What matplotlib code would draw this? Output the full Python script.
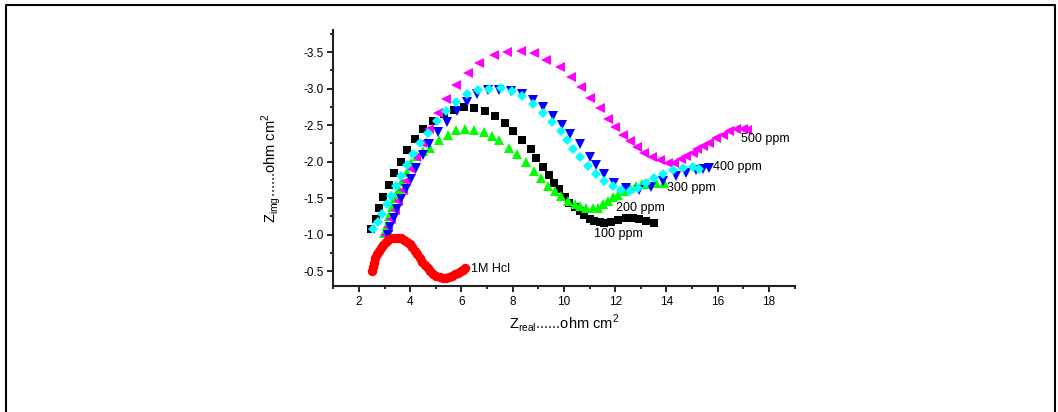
import matplotlib
matplotlib.use("Agg")
import matplotlib.pyplot as plt
from matplotlib.lines import Line2D
from matplotlib.ticker import MultipleLocator

plt.rcParams['font.family'] = ['Liberation Sans', 'DejaVu Sans']
plt.rcParams['axes.unicode_minus'] = False

# Nyquist data (Z_real, Z_img), ohm cm2
hcl_x = [2.53, 2.55, 2.59, 2.64, 2.70, 2.77, 2.85, 2.94, 3.04, 3.15, 3.27, 3.40, 3.53,
         3.65, 3.77, 3.88, 3.98, 4.08, 4.18, 4.28, 4.38, 4.48, 4.58, 4.68, 4.79, 4.90,
         5.02, 5.15, 5.28, 5.41, 5.53, 5.64, 5.75, 5.86, 5.97, 6.07, 6.15]
hcl_y = [-0.50, -0.56, -0.62, -0.68, -0.73, -0.78, -0.82, -0.86, -0.90, -0.93, -0.95, -0.96, -0.96,
         -0.95, -0.93, -0.90, -0.87, -0.83, -0.78, -0.73, -0.68, -0.63, -0.58, -0.54, -0.50, -0.47,
         -0.44, -0.42, -0.41, -0.41, -0.42, -0.44, -0.46, -0.48, -0.50, -0.52, -0.54]

p100_x = [2.48, 2.65, 2.80, 2.96, 3.17, 3.36, 3.65, 3.88, 4.20, 4.52, 4.88, 5.33, 5.72, 6.12,
          6.50, 6.93, 7.32, 7.71, 8.02, 8.38, 8.70, 8.92, 9.18, 9.42, 9.60, 9.81, 10.03, 10.19,
          10.42, 10.61, 10.80, 11.00, 11.19, 11.39, 11.58, 11.84, 12.10, 12.43, 12.68, 12.94,
          13.20, 13.53]
p100_y = [-1.08, -1.21, -1.36, -1.51, -1.68, -1.84, -2.00, -2.16, -2.31, -2.45, -2.56, -2.65, -2.70, -2.745,
          -2.74, -2.69, -2.62, -2.53, -2.42, -2.29, -2.17, -2.055, -1.93, -1.82, -1.71, -1.62, -1.51, -1.44,
          -1.38, -1.33, -1.27, -1.22, -1.19, -1.17, -1.16, -1.17, -1.20, -1.23, -1.23, -1.21,
          -1.19, -1.155]

p200_x = [2.98, 3.08, 3.18, 3.30, 3.42, 3.55, 3.70, 3.87, 4.05, 4.25, 4.50, 4.79, 5.14, 5.46,
          5.79, 6.14, 6.50, 6.89, 7.18, 7.45, 7.84, 8.15, 8.51, 8.84, 9.10, 9.38, 9.64, 9.90,
          10.16, 10.42, 10.61, 10.87, 11.13, 11.32, 11.52, 11.71, 11.91, 12.10, 12.36, 12.56,
          12.80, 13.05, 13.30, 13.60, 13.92]
p200_y = [-1.03, -1.14, -1.26, -1.38, -1.50, -1.62, -1.74, -1.86, -1.98, -2.08, -2.15, -2.19, -2.29, -2.37,
          -2.43, -2.45, -2.43, -2.40, -2.35, -2.30, -2.19, -2.10, -1.99, -1.87, -1.78, -1.67, -1.60, -1.53,
          -1.46, -1.42, -1.39, -1.365, -1.36, -1.37, -1.42, -1.46, -1.51, -1.54, -1.60, -1.645,
          -1.67, -1.69, -1.70, -1.71, -1.714]

p300_x = [2.54, 2.74, 2.91, 3.09, 3.26, 3.45, 3.65, 3.88, 4.13, 4.40, 4.68, 5.03, 5.40, 5.79,
          6.20, 6.63, 7.08, 7.54, 7.99, 8.38, 8.78, 9.18, 9.55, 9.90, 10.12, 10.35, 10.61, 10.93,
          11.26, 11.58, 11.91, 12.23, 12.56, 12.88, 13.20, 13.53, 13.85, 14.24, 14.63, 15.02, 15.28]
p300_y = [-1.08, -1.17, -1.29, -1.42, -1.53, -1.67, -1.80, -1.95, -2.10, -2.25, -2.395, -2.555, -2.69, -2.81,
          -2.92, -2.98, -3.00, -3.01, -2.965, -2.895, -2.79, -2.67, -2.545, -2.42, -2.29, -2.17, -2.06, -1.94,
          -1.83, -1.73, -1.67, -1.615, -1.60, -1.635, -1.71, -1.78, -1.835, -1.88, -1.92, -1.927, -1.905]

p400_x = [3.13, 3.23, 3.36, 3.49, 3.65, 3.84, 4.04, 4.23, 4.49, 4.75, 5.07, 5.42, 5.81, 6.20,
          6.59, 7.02, 7.47, 7.93, 8.38, 8.80, 9.18, 9.57, 9.92, 10.25, 10.61, 11.00, 11.26, 11.58,
          11.97, 12.43, 12.94, 13.40, 13.85, 14.37, 14.76, 15.15, 15.41, 15.67]
p400_y = [-1.00, -1.11, -1.23, -1.35, -1.49, -1.62, -1.76, -1.92, -2.09, -2.24, -2.41, -2.545, -2.69, -2.81,
          -2.92, -2.985, -2.985, -2.965, -2.92, -2.85, -2.75, -2.62, -2.50, -2.38, -2.24, -2.06, -1.95, -1.83,
          -1.71, -1.645, -1.61, -1.655, -1.74, -1.805, -1.85, -1.88, -1.895, -1.92]

p500_x = [3.00, 3.13, 3.26, 3.39, 3.54, 3.71, 3.84, 4.04, 4.23, 4.45, 4.75, 5.08, 5.40, 5.79,
          6.24, 6.70, 7.28, 7.76, 8.32, 8.84, 9.31, 9.83, 10.29, 10.67, 11.02, 11.39, 11.71, 12.01,
          12.30, 12.56, 12.84, 13.14, 13.44, 13.75, 14.05, 14.31, 14.57, 14.76, 15.02, 15.21,
          15.41, 15.67, 15.93, 16.19, 16.45, 16.71, 16.97, 17.16]
p500_y = [-1.00, -1.11, -1.22, -1.34, -1.46, -1.61, -1.74, -1.90, -2.07, -2.25, -2.44, -2.66, -2.86, -3.045,
          -3.21, -3.35, -3.455, -3.50, -3.52, -3.48, -3.395, -3.29, -3.155, -3.02, -2.87, -2.73, -2.59, -2.47,
          -2.36, -2.28, -2.20, -2.12, -2.065, -2.02, -1.985, -1.985, -2.03, -2.08, -2.12, -2.17,
          -2.21, -2.26, -2.32, -2.37, -2.42, -2.44, -2.44, -2.43]

fig = plt.figure(figsize=(10.58, 4.12), dpi=100)
ax = fig.add_axes([0.315, 0.306, 0.436, 0.621])

ax.plot(p100_x, p100_y, 's', color='black', ms=5.4, mew=0)
ax.plot(p200_x, p200_y, '^', color='#00ff00', ms=6.8, mew=0)
ax.plot(p500_x, p500_y, '<', color='#ff00ff', ms=6.8, mew=0)
ax.plot(p400_x, p400_y, 'v', color='#0000ff', ms=6.8, mew=0)
ax.plot(p300_x, p300_y, 'D', color='#00ffff', ms=5.6, mew=0)
ax.plot(hcl_x, hcl_y, 'o', color='#ff0000', ms=6.8, mew=0)

lab = dict(fontsize=9, va='center', ha='left')
ax.text(6.37, -0.53, '1M Hcl', **lab)
ax.text(11.17, -1.01, '100 ppm', **lab)
ax.text(12.04, -1.37, '200 ppm', **lab)
ax.text(14.02, -1.64, '300 ppm', **lab)
ax.text(15.8, -1.93, '400 ppm', **lab)
ax.text(16.92, -2.31, '500 ppm', **lab)

ax.set_xlim(1, 19)
ax.set_ylim(-0.3, -3.8)
ax.xaxis.set_major_locator(MultipleLocator(2))
ax.xaxis.set_minor_locator(MultipleLocator(1))
ax.yaxis.set_major_locator(MultipleLocator(0.5))
ax.yaxis.set_minor_locator(MultipleLocator(0.25))

for s in ['top', 'right']:
    ax.spines[s].set_visible(False)
for s in ['left', 'bottom']:
    ax.spines[s].set_linewidth(1.5)
    ax.spines[s].set_color('#222222')
ax.tick_params(which='major', direction='out', length=4, width=1.2, labelsize=8.5, pad=3)
ax.tick_params(which='minor', direction='out', length=2.5, width=1.2)

ax.set_xlabel(r'Z$_{\mathregular{real}}$......ohm cm$^{\mathregular{2}}$', fontsize=10.5)
ax.set_ylabel(r'Z$_{\mathregular{img}}$......ohm cm$^{\mathregular{2}}$', fontsize=10.5)
ax.xaxis.set_label_coords(0.5, -0.10)
ax.yaxis.set_label_coords(-0.108, 0.46)

# outer frame (open at the bottom)
fig.add_artist(Line2D([6 / 1058, 6 / 1058, 1055 / 1058, 1055 / 1058],
                      [0, 1 - 4.5 / 412, 1 - 4.5 / 412, 0],
                      transform=fig.transFigure, color='black', lw=1.5))

fig.savefig('out.png', dpi=100)
